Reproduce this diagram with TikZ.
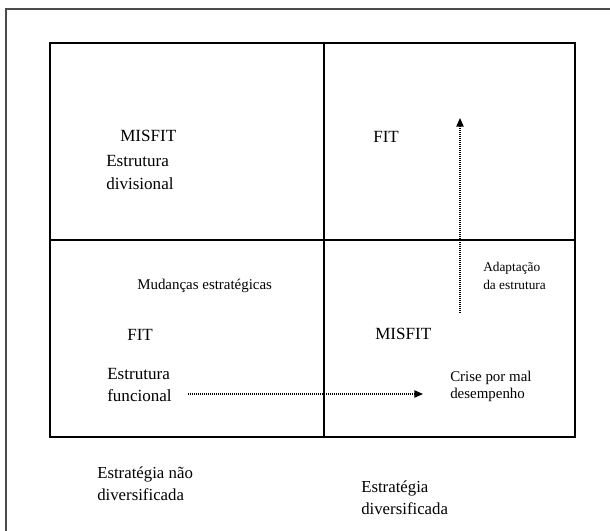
\documentclass[tikz,border=0pt]{standalone}
\usepackage{fontspec}
\setmainfont{Liberation Serif}
\usetikzlibrary{arrows.meta}
\begin{document}
\begin{tikzpicture}[x=0.75pt,y=-0.75pt,
  lbl/.style={inner sep=0pt, anchor=base west, align=left},
  big/.style={lbl, font=\fontsize{12.8}{17.5}\selectfont},
  mid/.style={lbl, font=\fontsize{11.2}{13}\selectfont},
  small/.style={lbl, font=\fontsize{10}{13}\selectfont},
  gridline/.style={line width=1.1pt},
  flow/.style={line width=1.1pt, dash pattern=on 0.75pt off 0.75pt,
    -{Triangle[length=6.5pt,width=5.5pt]}}]
\useasboundingbox (0,0) rectangle (610,531);
\fill[white] (0,0) rectangle (610,531);
\begin{scope}
  \clip (0,0) rectangle (610,531);
  % page frame, open to the right and below
  \draw[line width=1.5pt, black!70] (640,9.5) -- (5.5,9.5) -- (5.5,560);
\end{scope}
% the 2x2 matrix
\draw[gridline] (50,43) rectangle (575,437);
\draw[gridline] (324,43) -- (324,437);
\draw[gridline] (50,240) -- (575,240);

% upper left quadrant (multi-line nodes sit on the baseline of their last line)
\node[big] (misfitA) at (120,142) {MISFIT};
\node[big] (divis) at (106,190) {Estrutura\\divisional};
% upper right quadrant
\node[big] (fitA) at (373,143) {FIT};
% lower left quadrant
\node[mid] (mudancas) at (137,289) {Mudanças estratégicas};
\node[big] (fitB) at (127,340) {FIT};
\node[big, font=\fontsize{12.8}{16.5}\selectfont] (func) at (107,401) {Estrutura\\funcional};
% lower right quadrant
\node[big] (misfitB) at (375,339) {MISFIT};
\node[mid] (crise) at (450,398.5) {Crise por mal\\desempenho};
\node[small] (adapt) at (483,289.3) {Adaptação\\da estrutura};
% axis captions
\node[big, font=\fontsize{12.6}{16}\selectfont] (naodiv) at (97,500) {Estratégia não\\diversificada};
\node[big, font=\fontsize{12.6}{16.5}\selectfont] (div) at (361,514) {Estratégia\\diversificada};

% transitions
\coordinate (hA) at (188,394);
\coordinate (hB) at (423,394);
\coordinate (vA) at (460,313);
\coordinate (vB) at (460,118);
\draw[flow] (hA) -- (hB);
\draw[flow] (vA) -- (vB);
\end{tikzpicture}
\end{document}
